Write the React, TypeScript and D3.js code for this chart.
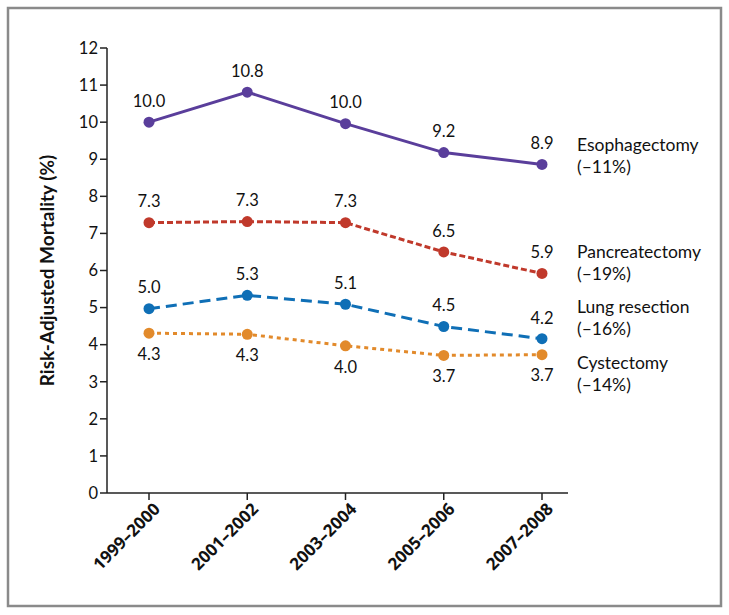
import React from "react";
import * as d3 from "d3";

const categories = ["1999–2000", "2001–2002", "2003–2004", "2005–2006", "2007–2008"];
const esophagectomy = [10.0, 10.81, 9.96, 9.18, 8.86];
const pancreatectomy = [7.29, 7.32, 7.29, 6.5, 5.92];
const lungResection = [4.97, 5.33, 5.09, 4.49, 4.16];
const cystectomy = [4.31, 4.28, 3.97, 3.71, 3.73];
const seriesNames = ["Esophagectomy", "Pancreatectomy", "Lung resection", "Cystectomy"];
const seriesChanges = ["(–11%)", "(–19%)", "(–16%)", "(–14%)"];
const yTicks = [0, 1, 2, 3, 4, 5, 6, 7, 8, 9, 10, 11, 12];

const W = 729;
const H = 615;
const FONT = "Lato, 'Open Sans', sans-serif";
const XFONT = "'Open Sans', Lato, sans-serif";

type S = {
  name: string;
  change: string;
  values: number[];
  color: string;
  dash: string;
  labelBelow: boolean;
  legendY: number;
};

export default function App() {
  const x = d3.scalePoint<string>().domain(categories).range([149, 542]);
  const y = d3.scaleLinear().domain([0, 12]).range([493, 48]);
  const axisLeft = 107;
  const axisRight = 568;

  const series: S[] = [
    { name: seriesNames[0], change: seriesChanges[0], values: esophagectomy, color: "#5a3e9b", dash: "none", labelBelow: false, legendY: 145 },
    { name: seriesNames[1], change: seriesChanges[1], values: pancreatectomy, color: "#c0392b", dash: "6,3", labelBelow: false, legendY: 252 },
    { name: seriesNames[2], change: seriesChanges[2], values: lungResection, color: "#0f6fb6", dash: "11,6", labelBelow: false, legendY: 307 },
    { name: seriesNames[3], change: seriesChanges[3], values: cystectomy, color: "#e28a2b", dash: "4,4", labelBelow: true, legendY: 363 },
  ];

  const line = d3
    .line<number>()
    .x((_, i) => x(categories[i]) as number)
    .y((d) => y(d));

  return (
    <svg
      width={W}
      height={H}
      style={{ position: "absolute", left: 0, top: 0, background: "#fff" }}
      fontFamily={FONT}
    >
      <rect x={8} y={8} width={713} height={598} fill="#fff" stroke="#8a8a8a" strokeWidth={2.5} />

      {/* y axis */}
      <line x1={axisLeft} x2={axisLeft} y1={y(12)} y2={y(0)} stroke="#222" strokeWidth={1.5} />
      {yTicks.map((t) => (
        <g key={t}>
          <line x1={axisLeft - 7} x2={axisLeft} y1={y(t)} y2={y(t)} stroke="#222" strokeWidth={1.5} />
          <text x={axisLeft - 9} y={y(t)} dy="0.35em" textAnchor="end" fontSize={16.5} fill="#111">
            {t}
          </text>
        </g>
      ))}
      <text
        transform={`translate(47,${(y(0) + y(12)) / 2}) rotate(-90)`}
        textAnchor="middle"
        dy="0.35em"
        fontSize={19}
        fontWeight="bold"
        fill="#111"
      >
        Risk-Adjusted Mortality (%)
      </text>

      {/* x axis */}
      <line x1={axisLeft} x2={axisRight} y1={y(0)} y2={y(0)} stroke="#222" strokeWidth={1.5} />
      {categories.map((c) => (
        <g key={c}>
          <line x1={x(c)} x2={x(c)} y1={y(0)} y2={y(0) + 7} stroke="#222" strokeWidth={1.5} />
          <text
            transform={`translate(${(x(c) as number) + 8},${y(0) + 13}) rotate(-45)`}
            textAnchor="end"
            dy="0.35em"
            fontSize={17}
            fontWeight="bold"
            fontFamily={XFONT}
            fill="#111"
          >
            {c}
          </text>
        </g>
      ))}

      {/* series */}
      {series.map((s) => (
        <g key={s.name}>
          <path d={line(s.values) || ""} fill="none" stroke={s.color} strokeWidth={3} strokeDasharray={s.dash} />
          {s.values.map((v, i) => (
            <g key={i}>
              <circle cx={x(categories[i])} cy={y(v)} r={5.5} fill={s.color} />
              <text
                x={x(categories[i])}
                y={y(v) + (s.labelBelow ? 21 : -21)}
                dy="0.35em"
                textAnchor="middle"
                fontSize={16.5}
                fill="#111"
              >
                {v.toFixed(1)}
              </text>
            </g>
          ))}
          <text x={577} y={s.legendY} dy="0.35em" fontSize={17.5} fill="#111">
            {s.name}
          </text>
          <text x={577} y={s.legendY + 22} dy="0.35em" fontSize={17.5} fill="#111">
            {s.change}
          </text>
        </g>
      ))}
    </svg>
  );
}
